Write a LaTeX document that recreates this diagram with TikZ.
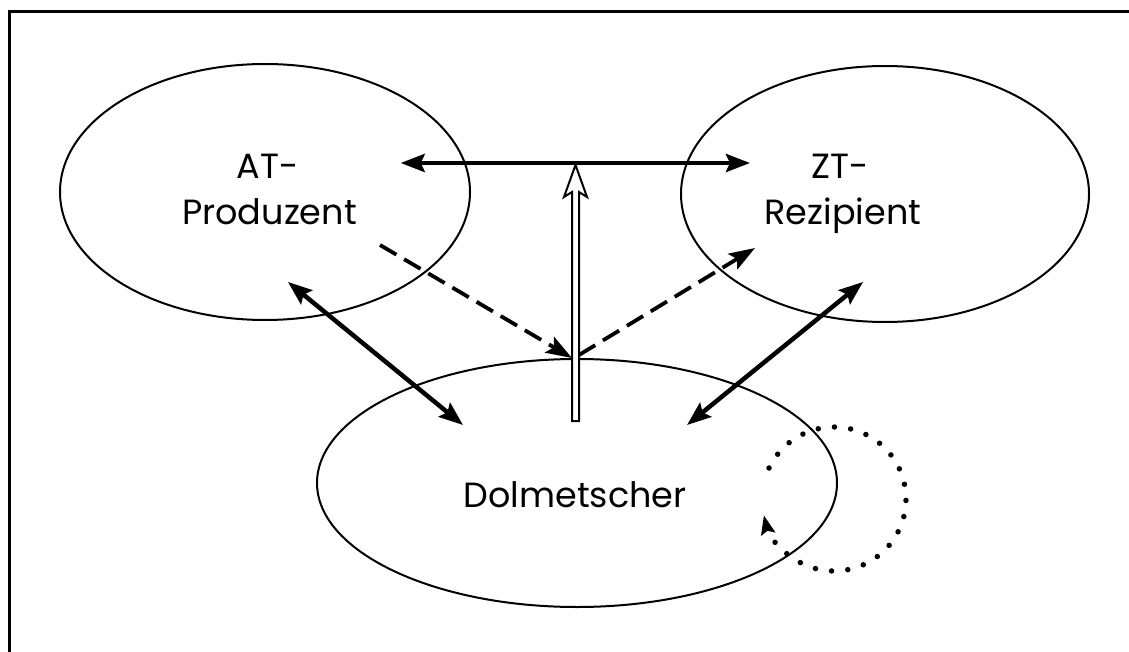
\documentclass[tikz,border=0pt]{standalone}
\usepackage{fontspec}
\setmainfont{Poppins}
\usetikzlibrary{arrows.meta,shapes.geometric}
\begin{document}
\begin{tikzpicture}[x=1pt,y=-1pt,
  oval/.style={draw, ellipse, line width=2pt, inner sep=0pt},
  lbl/.style={font=\fontsize{35}{44}\selectfont, anchor=base, inner sep=0pt},
  boldarrow/.style={line width=4.5pt, {Stealth[length=24pt,width=18pt,inset=4pt]}-{Stealth[length=24pt,width=18pt,inset=4pt]}},
  dasharrow/.style={line width=3.8pt, dash pattern=on 19pt off 9pt, -{Stealth[length=26pt,width=18pt,inset=5pt]}},
  dotarrow/.style={line width=5.5pt, line cap=round, dash pattern=on 0pt off 16.3pt, -{Stealth[length=19pt,width=14pt,inset=3pt]}},
  hollow/.style={line width=2pt, line join=miter, fill=white}
]
\useasboundingbox (0,0) rectangle (1129,652);
% frame
\draw[line width=3pt] (9.5,652) -- (9.5,12) -- (1129,12);

% ellipses
\node[oval, minimum width=410pt, minimum height=256pt] (at) at (265,192) {};
\node[oval, minimum width=408pt, minimum height=256pt] (zt) at (885,194) {};
\node[oval, minimum width=520pt, minimum height=248pt] (dol) at (577,483) {};

% labels
\node[lbl] (at1) at (267.5,179) {AT-};
\node[lbl] (at2) at (269.5,225) {Produzent};
\node[lbl] (zt1) at (840,179) {ZT-};
\node[lbl] (zt2) at (843,225) {Rezipient};
\node[lbl] (dl) at (575,507) {Dolmetscher};

% coordinates
\coordinate (hl) at (400.7,163);
\coordinate (hr) at (750,163);
\coordinate (htip) at (575.5,165);
\coordinate (d1s) at (380,245);
\coordinate (d1e) at (572,358);
\coordinate (d2s) at (579,355);
\coordinate (d2e) at (755,248);
\coordinate (la) at (288,282);
\coordinate (lb) at (463,425);
\coordinate (ra) at (863,282);
\coordinate (rb) at (687,425);
\coordinate (lc) at (834,499);

% horizontal double arrow
\draw[boldarrow] (hl) -- (hr);
% hollow arrow
\draw[hollow, shift={(htip)}] (0,0) -- (11.5,32) -- (3.5,27) -- (3.5,256) -- (-3.5,256) -- (-3.5,27) -- (-11.5,32) -- cycle;
% dashed arrows
\draw[dasharrow] (d1s) -- (d1e);
\draw[dasharrow] (d2s) -- (d2e);
% bold diagonal double arrows
\draw[boldarrow] (la) -- (lb);
\draw[boldarrow] (ra) -- (rb);
% dotted loop
\draw[dotarrow] ([shift={(205.5:72)}]lc) arc[start angle=205.5, end angle=527, radius=72];
\end{tikzpicture}
\end{document}
